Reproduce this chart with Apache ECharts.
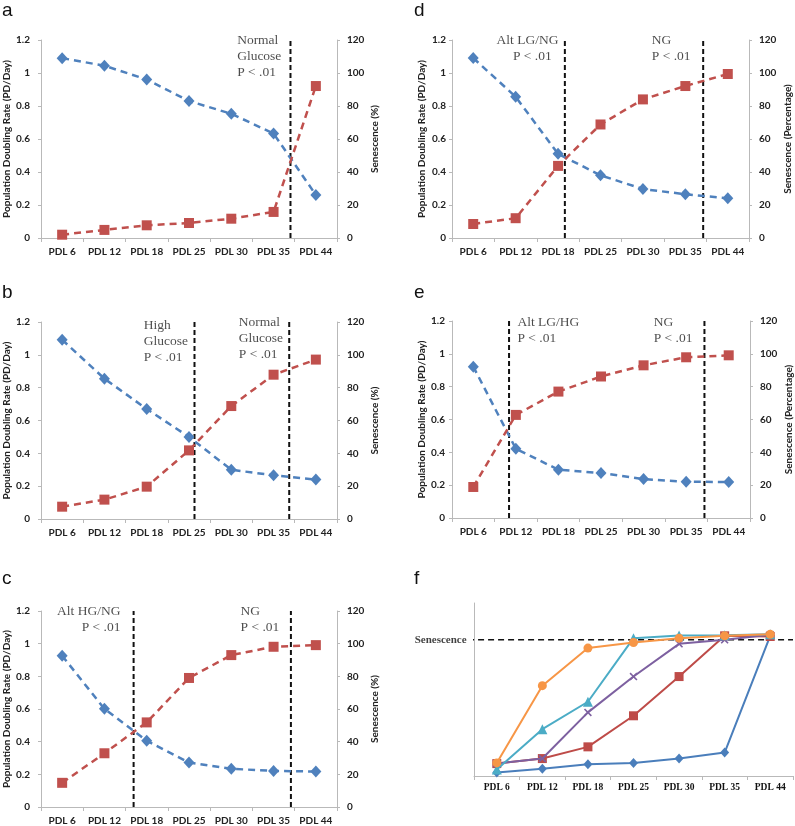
<!DOCTYPE html>
<html>
<head>
<meta charset="utf-8">
<script src="https://cdn.jsdelivr.net/npm/echarts@6/dist/echarts.min.js"></script>
<style>
html,body{margin:0;padding:0;background:#fff;}
#main{width:795px;height:826px;}
</style>
</head>
<body>
<div id="main"></div>
<script>
// ---------- data ----------
const categories = ['PDL 6', 'PDL 12', 'PDL 18', 'PDL 25', 'PDL 30', 'PDL 35', 'PDL 44'];
const leftTicks = [0, 0.2, 0.4, 0.6, 0.8, 1, 1.2];
const rightTicks = [0, 20, 40, 60, 80, 100, 120];

// panel a
const rateA = [1.09, 1.044, 0.961, 0.83, 0.753, 0.633, 0.261];
const senA = [2.0, 4.9, 7.7, 9.1, 11.7, 15.8, 92.1];
// panel b
const rateB = [1.092, 0.855, 0.67, 0.50, 0.30, 0.266, 0.24];
const senB = [7.5, 11.8, 19.7, 41.8, 68.8, 87.9, 97.1];
// panel c
const rateC = [0.926, 0.601, 0.406, 0.272, 0.234, 0.221, 0.217];
const senC = [14.8, 32.9, 51.8, 79.0, 93.0, 98.1, 99.1];
// panel d
const rateD = [1.091, 0.856, 0.51, 0.38, 0.297, 0.265, 0.241];
const senD = [8.5, 12.0, 43.7, 68.8, 84.0, 92.1, 99.4];
// panel e
const rateE = [0.922, 0.422, 0.294, 0.274, 0.237, 0.221, 0.219];
const senE = [18.9, 62.8, 77.0, 86.2, 93.0, 97.9, 99.1];

// vertical dashed separators (position along category index, 0..7)
const vlinesA = [5.9];
const vlinesB = [3.63, 5.87];
const vlinesC = [2.19, 5.91];
const vlinesD = [2.66, 5.92];
const vlinesE = [1.34, 5.93];

// annotations
const notesA = [{x: 4.65, y: 1.242, text: 'Normal\nGlucose\nP < .01', align: 'left'}];
const notesB = [{x: 2.44, y: 1.226, text: 'High\nGlucose\nP < .01', align: 'left'},
                {x: 4.69, y: 1.245, text: 'Normal\nGlucose\nP < .01', align: 'left'}];
const notesC = [{x: 1.89, y: 1.245, text: 'Alt HG/NG\nP < .01', align: 'right'},
                {x: 4.73, y: 1.245, text: 'NG\nP < .01', align: 'left'}];
const notesD = [{x: 2.52, y: 1.24, text: 'Alt LG/NG\nP < .01\u00a0\u00a0', align: 'right'},
                {x: 4.72, y: 1.24, text: 'NG\nP < .01', align: 'left'}];
const notesE = [{x: 1.55, y: 1.238, text: 'Alt LG/HG\nP < .01', align: 'left'},
                {x: 4.75, y: 1.238, text: 'NG\nP < .01', align: 'left'}];

// panel f (relative senescence, 100 = senescence threshold)
const fBlue   = [2.5, 5.4, 8.6, 9.6, 12.8, 17.2, 102.9];
const fRed    = [9.1, 12.8, 21.4, 44.2, 73.0, 102.9, 102.4];
const fPurple = [9.1, 12.8, 46.7, 73.0, 97.0, 100.0, 103.7];
const fCyan   = [4.7, 34.4, 54.5, 101.2, 103.2, 103.4, 104.0];
const fOrange = [9.6, 66.3, 93.9, 98.0, 101.2, 102.9, 104.0];
const senescenceLevel = 100;

const panelLetters = ['a', 'b', 'c', 'd', 'e', 'f'];

// ---------- layout / style ----------
const grids = [
  {left: 41, top: 40, width: 296, height: 198},
  {left: 41, top: 322, width: 296, height: 197},
  {left: 41, top: 611, width: 296, height: 197},
  {left: 452, top: 40, width: 297, height: 198},
  {left: 452, top: 321, width: 298, height: 197},
  {left: 474, top: 603, width: 319, height: 173}
];
const letterPos = [
  {left: 2, top: 1}, {left: 2, top: 283}, {left: 2, top: 569},
  {left: 414, top: 1}, {left: 414, top: 283}, {left: 414, top: 569}
];
const leftMargins = [11, 11, 11, 6, 7];
const leftNameGaps = [28, 28, 28, 25, 25];
const rightNames = ['Senescence (%)', 'Senescence (%)', 'Senescence (%)', 'Senescence (Percentage)', 'Senescence (Percentage)'];

const AX = '#b9b9b9';
const TXT = '#222';
const SANS = 'Lato';
const SERIF = 'Liberation Serif';
const BLUE = '#4f81bd';
const RED = '#c0504d';

const panels = [
  {rate: rateA, sen: senA, vlines: vlinesA, notes: notesA},
  {rate: rateB, sen: senB, vlines: vlinesB, notes: notesB},
  {rate: rateC, sen: senC, vlines: vlinesC, notes: notesC},
  {rate: rateD, sen: senD, vlines: vlinesD, notes: notesD},
  {rate: rateE, sen: senE, vlines: vlinesE, notes: notesE}
];

const xAxes = [], yAxes = [], series = [];

function catAxis(gi, fontFamily, fontSize, margin) {
  return {
    type: 'category', gridIndex: gi, data: categories, boundaryGap: true,
    axisLine: {show: true, lineStyle: {color: AX, width: 1}},
    axisTick: {show: true, alignWithLabel: false, length: 4, lineStyle: {color: AX}},
    axisLabel: {color: TXT, fontFamily: fontFamily, fontWeight: 'bold', fontSize: fontSize, margin: margin, interval: 0},
    splitLine: {show: false}
  };
}
function hiddenValueX(gi) {
  return {type: 'value', gridIndex: gi, min: 0, max: 7, show: false, splitLine: {show: false}};
}

panels.forEach((p, i) => {
  const xi = xAxes.length;
  xAxes.push(catAxis(i, SANS, 10, 9));
  xAxes.push(hiddenValueX(i));
  const yl = yAxes.length;
  yAxes.push({
    type: 'value', gridIndex: i, position: 'left',
    min: leftTicks[0], max: leftTicks[leftTicks.length - 1], interval: leftTicks[1] - leftTicks[0],
    axisLine: {show: true, lineStyle: {color: AX}},
    axisTick: {show: true, length: 3, lineStyle: {color: AX}},
    axisLabel: {color: TXT, fontFamily: SANS, fontWeight: 'bold', fontSize: 10, margin: leftMargins[i]},
    splitLine: {show: false},
    name: 'Population Doubling Rate (PD/Day)', nameLocation: 'middle', nameRotate: 90, nameGap: leftNameGaps[i],
    nameTextStyle: {color: TXT, fontFamily: SANS, fontWeight: 'bold', fontSize: 10}
  });
  yAxes.push({
    type: 'value', gridIndex: i, position: 'right',
    min: rightTicks[0], max: rightTicks[rightTicks.length - 1], interval: rightTicks[1] - rightTicks[0],
    axisLine: {show: true, lineStyle: {color: AX}},
    axisTick: {show: true, length: 3, lineStyle: {color: AX}},
    axisLabel: {color: TXT, fontFamily: SANS, fontWeight: 'bold', fontSize: 10, margin: 10},
    splitLine: {show: false},
    name: rightNames[i], nameLocation: 'middle', nameRotate: 90, nameGap: i < 3 ? 33 : 34,
    nameTextStyle: {color: TXT, fontFamily: SANS, fontWeight: 'bold', fontSize: 10}
  });

  p.vlines.forEach(v => {
    series.push({
      type: 'line', xAxisIndex: xi + 1, yAxisIndex: yl, silent: true, symbol: 'none', z: 1,
      data: [[v, leftTicks[0]], [v, leftTicks[leftTicks.length - 1]]],
      lineStyle: {color: '#111', width: 2, type: [5, 3]}
    });
  });
  series.push({
    type: 'line', xAxisIndex: xi, yAxisIndex: yl, data: p.rate, z: 3,
    symbol: 'diamond', symbolSize: [11, 12], showSymbol: true,
    itemStyle: {color: BLUE}, lineStyle: {color: BLUE, width: 2.5, type: [7, 5]}
  });
  series.push({
    type: 'line', xAxisIndex: xi, yAxisIndex: yl + 1, data: p.sen, z: 3,
    symbol: 'rect', symbolSize: 10, showSymbol: true,
    itemStyle: {color: RED}, lineStyle: {color: RED, width: 2.5, type: [7, 5]}
  });
  p.notes.forEach(n => {
    series.push({
      type: 'scatter', xAxisIndex: xi + 1, yAxisIndex: yl, clip: false, silent: true, z: 5,
      symbolSize: 1, itemStyle: {color: 'rgba(0,0,0,0)'},
      data: [[n.x, n.y]],
      label: {show: true, position: [0, 0], align: n.align, verticalAlign: 'top',
        formatter: n.text, fontFamily: SERIF, fontSize: 13.5, lineHeight: 16, color: '#1e1e1e'}
    });
  });
});

// panel f
(function () {
  const gi = 5;
  const xi = xAxes.length;
  const fx = catAxis(gi, SERIF, 9.5, 7);
  fx.axisLabel.color = '#111';
  xAxes.push(fx);
  xAxes.push(hiddenValueX(gi));
  const yi = yAxes.length;
  yAxes.push({
    type: 'value', gridIndex: gi, min: 0, max: 127,
    axisLine: {show: true, lineStyle: {color: AX}},
    axisTick: {show: false}, axisLabel: {show: false}, splitLine: {show: false}
  });
  series.push({
    type: 'line', xAxisIndex: xi + 1, yAxisIndex: yi, silent: true, symbol: 'none', clip: false, z: 1,
    data: [[-0.13, senescenceLevel], [7, senescenceLevel]],
    lineStyle: {color: '#111', width: 1.5, type: [6, 4]}
  });
  series.push({
    type: 'scatter', xAxisIndex: xi + 1, yAxisIndex: yi, clip: false, silent: true,
    symbolSize: 1, itemStyle: {color: 'rgba(0,0,0,0)'},
    data: [[-0.13, senescenceLevel]],
    label: {show: true, position: 'left', distance: 1, formatter: 'Senescence',
      fontFamily: SERIF, fontWeight: 'bold', fontSize: 11, color: '#111'}
  });
  const xSym = 'path://M0,1.4L1.4,0L5,3.6L8.6,0L10,1.4L6.4,5L10,8.6L8.6,10L5,6.4L1.4,10L0,8.6L3.6,5Z';
  const fs = [
    {d: fBlue, c: '#4a7ebb', s: 'diamond', z: [9, 10]},
    {d: fRed, c: '#be4b48', s: 'rect', z: 9},
    {d: fPurple, c: '#7d60a0', s: xSym, z: 8},
    {d: fCyan, c: '#4bacc6', s: 'triangle', z: 10},
    {d: fOrange, c: '#f79646', s: 'circle', z: 9}
  ];
  fs.forEach((f, k) => {
    series.push({
      type: 'line', xAxisIndex: xi, yAxisIndex: yi, data: f.d, z: 3 + k,
      symbol: f.s, symbolSize: f.z, showSymbol: true,
      itemStyle: {color: f.c}, lineStyle: {color: f.c, width: 2}
    });
  });
})();

const option = {
  animation: false,
  backgroundColor: '#fff',
  title: panelLetters.map((t, i) => ({
    text: t, left: letterPos[i].left, top: letterPos[i].top, padding: 0,
    textStyle: {fontFamily: 'Liberation Sans', fontWeight: 'normal', fontSize: 19, color: '#111'}
  })),
  grid: grids,
  xAxis: xAxes,
  yAxis: yAxes,
  series: series
};

const chart = echarts.init(document.getElementById('main'), null, {renderer: 'canvas'});
chart.setOption(option);
</script>
</body>
</html>
